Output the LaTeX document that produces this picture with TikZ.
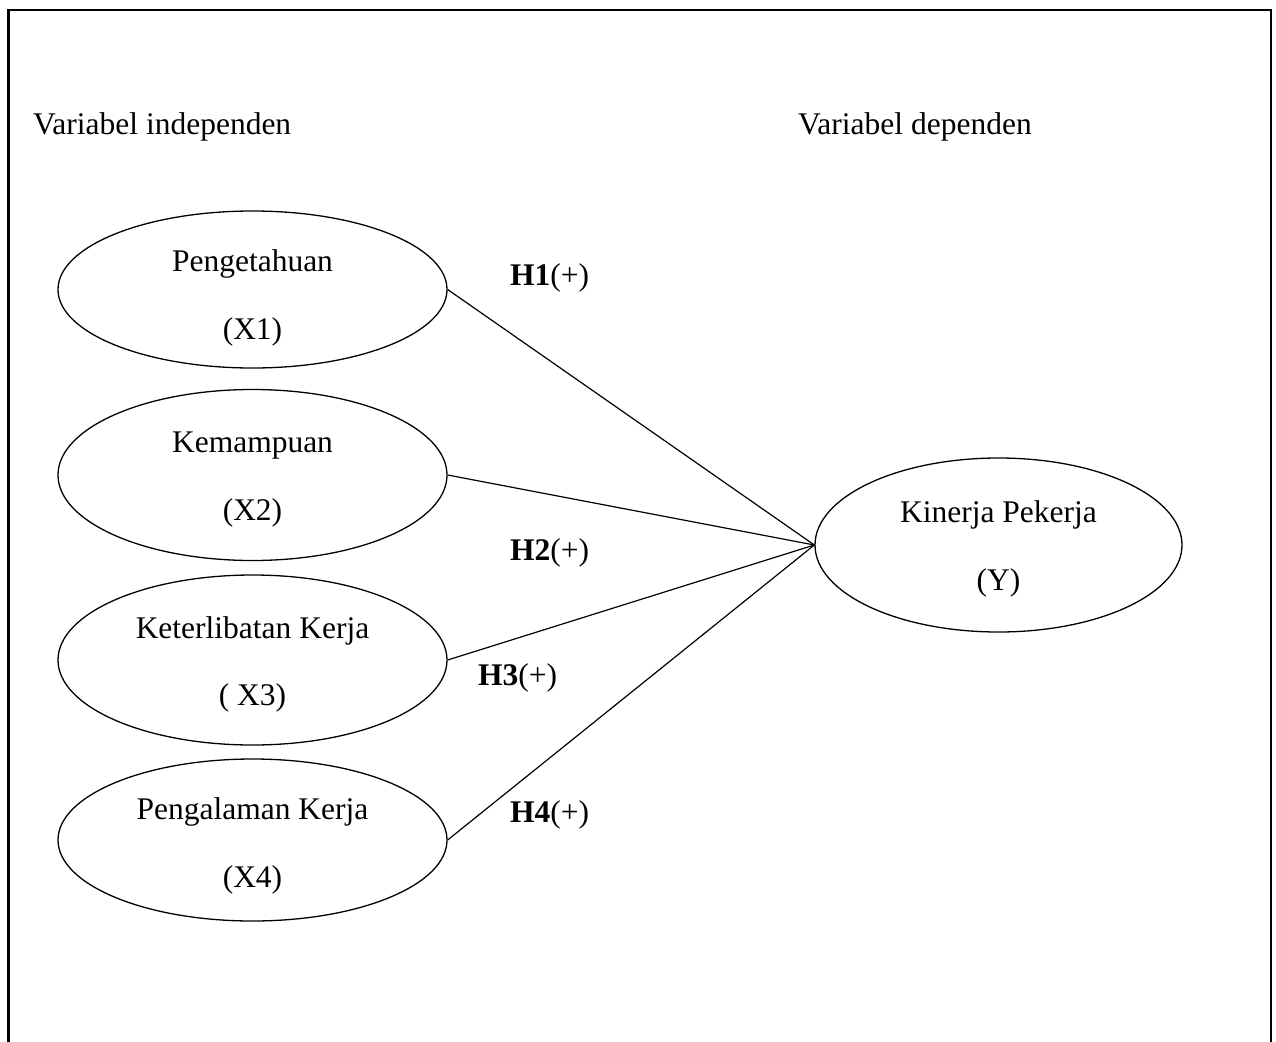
\documentclass[tikz,border=0pt]{standalone}
\usepackage{fontspec}
\setmainfont{Liberation Serif}
\usetikzlibrary{shapes.geometric}
\newcommand\lowerby[2]{\raisebox{-#1}[\height][\depth]{#2}}
\begin{document}
\begin{tikzpicture}[x=1pt,y=-1pt,
  txt/.style={font=\fontsize{31.5}{68}\selectfont, inner sep=0pt},
  var/.style={ellipse, draw, line width=1.3pt, inner sep=0pt, align=center,
    font=\fontsize{31.5}{68}\selectfont},
  link/.style={line width=1.2pt},
  hlab/.style={font=\fontsize{31.5}{38}\selectfont, inner sep=0pt, anchor=west}]
\useasboundingbox (0,0) rectangle (1276,1041);
\draw[line width=2.2pt] (8.5,1045) -- (8.5,10) -- (1271,10) -- (1271,1045);
\node[txt, anchor=west] (ti) at (33,127) {Variabel independen};
\node[txt, anchor=west] (td) at (798,127) {Variabel dependen};
\node[var, minimum width=389pt, minimum height=157pt] (x1) at (252.5,289.5)
  {\lowerby{8pt}{Pengetahuan}\\\lowerby{8pt}{(X1)}};
\node[var, minimum width=389pt, minimum height=171pt] (x2) at (252.5,475)
  {\lowerby{5pt}{Kemampuan}\\\lowerby{5pt}{(X2)}};
\node[var, minimum width=389pt, minimum height=170pt] (x3) at (252.5,660)
  {\lowerby{5pt}{Keterlibatan Kerja}\\\lowerby{4pt}{( X3)}};
\node[var, minimum width=389pt, minimum height=162pt] (x4) at (252.5,840)
  {\lowerby{6pt}{Pengalaman Kerja}\\\lowerby{6pt}{(X4)}};
\node[var, minimum width=367pt, minimum height=174pt] (y) at (998.5,545)
  {\lowerby{4pt}{Kinerja Pekerja}\\\lowerby{4pt}{(Y)}};
\draw[link] (x1.east) -- (y.west);
\draw[link] (x2.east) -- (y.west);
\draw[link] (x3.east) -- (y.west);
\draw[link] (x4.east) -- (y.west);
\node[hlab] (h1) at (510,278) {\textbf{H1}(+)};
\node[hlab] (h2) at (510,553) {\textbf{H2}(+)};
\node[hlab] (h3) at (478,678) {\textbf{H3}(+)};
\node[hlab] (h4) at (510,815) {\textbf{H4}(+)};
\end{tikzpicture}
\end{document}
